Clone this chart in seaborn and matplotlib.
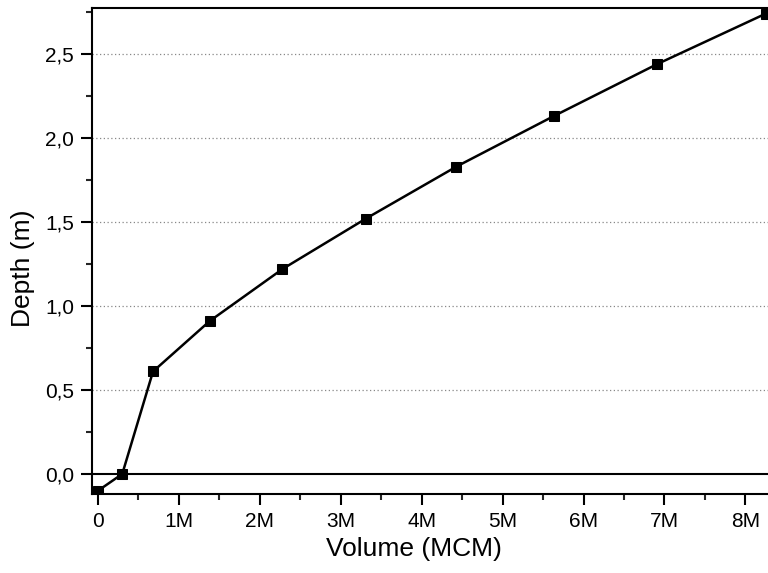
import pandas as pd
import matplotlib
matplotlib.use("Agg")
import matplotlib.pyplot as plt
import seaborn as sns
from matplotlib.ticker import FuncFormatter, MultipleLocator

# volume in millions of cubic metres, depth in metres
volume = [0.0, 0.30, 0.68, 1.38, 2.28, 3.31, 4.43, 5.63, 6.91, 8.25]
depth = [-0.10, 0.0, 0.61, 0.91, 1.22, 1.52, 1.83, 2.13, 2.44, 2.74]
x_ticks = [0, 1, 2, 3, 4, 5, 6, 7, 8]
y_ticks = [0.0, 0.5, 1.0, 1.5, 2.0, 2.5]

df = pd.DataFrame({"Volume": volume, "Depth": depth})

sns.set_style("ticks")
plt.rcParams["font.family"] = ["Liberation Sans", "DejaVu Sans"]

fig = plt.figure(figsize=(7.68, 5.73), dpi=100)
ax = fig.add_axes([0.1198, 0.138, 0.8802, 0.848])

for y in y_ticks[1:]:
    ax.axhline(y, color="#888888", lw=0.9, ls=(0, (1, 2)), zorder=0)
ax.axhline(0, color="black", lw=1.5, zorder=1)

sns.lineplot(data=df, x="Volume", y="Depth", ax=ax, color="black", lw=1.8,
             marker="s", markersize=7, markeredgecolor="black", sort=False)

ax.set_xlim(-0.074, 8.28)
ax.set_ylim(-0.119, 2.774)
ax.set_xticks(x_ticks)
ax.set_yticks(y_ticks)
ax.xaxis.set_minor_locator(MultipleLocator(0.5))
ax.yaxis.set_minor_locator(MultipleLocator(0.25))
ax.xaxis.set_major_formatter(FuncFormatter(lambda v, p: "0" if v == 0 else f"{int(v)}M"))
ax.yaxis.set_major_formatter(FuncFormatter(lambda v, p: f"{v:.1f}".replace(".", ",")))

ax.tick_params(which="major", direction="out", length=8, width=1.5, labelsize=15,
               colors="black", pad=5)
ax.tick_params(which="minor", direction="out", length=4, width=1.5)
for s in ["left", "bottom", "top"]:
    ax.spines[s].set_linewidth(1.5)
    ax.spines[s].set_color("black")
ax.spines["right"].set_visible(False)

ax.set_xlabel("Volume (MCM)", fontsize=19, color="black")
ax.set_ylabel("Depth (m)", fontsize=19, color="black")
ax.xaxis.set_label_coords(0.476, -0.089)
ax.yaxis.set_label_coords(-0.085, 0.465)

plt.savefig("out.png", dpi=100)
